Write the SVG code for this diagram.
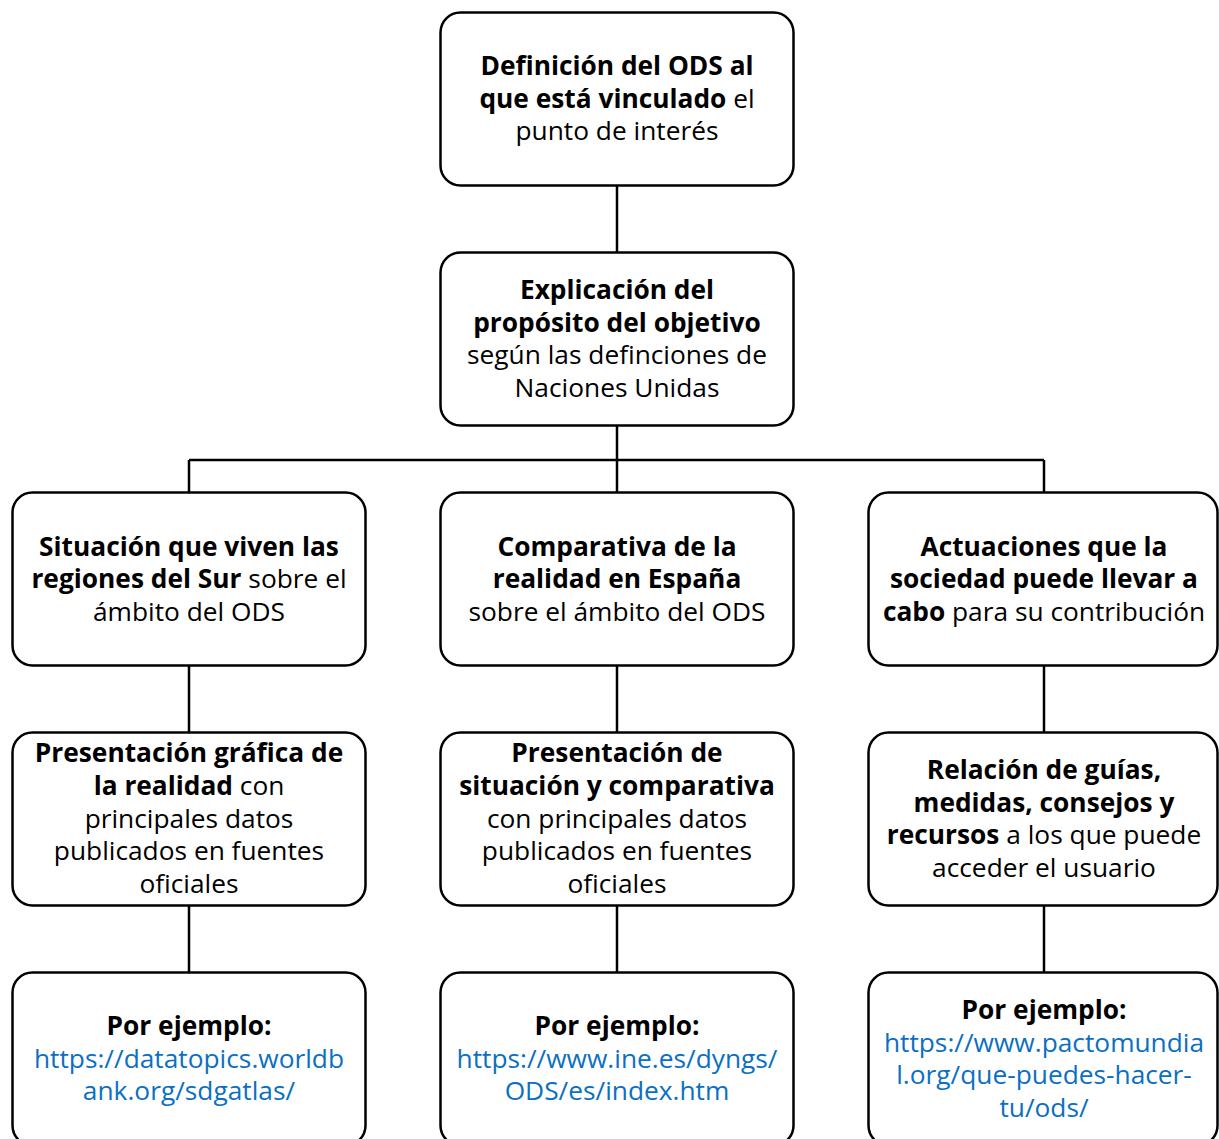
<svg xmlns="http://www.w3.org/2000/svg" width="1219" height="1139" viewBox="0 0 1219 1139">
<style>
.box{fill:#fff;stroke:#000;stroke-width:2.5}
.t{font-family:"Open Sans","Noto Sans","Liberation Sans",sans-serif;font-size:26.3px;fill:#000;text-anchor:middle}
.b{font-weight:bold}
.lk{fill:#0b6fc2}
.c{stroke:#000;stroke-width:2.5;fill:none}
</style>
<rect width="1219" height="1139" fill="#fff"/>
<g id="connectors">
<path class="c" d="M617 186V252M617 426V492M189 460H1044M189 460V492M1044 460V492M189 666V732M617 666V732M1044 666V732M189 906V972M617 906V972M1044 906V972"/>
</g>
<g id="n1">
<rect class="box" x="440.5" y="12.5" width="353" height="173" rx="20"/>
<text class="t" x="617"><tspan class="b" x="617" y="75">Definición del ODS al</tspan><tspan x="617" y="108"><tspan class="b">que está vinculado</tspan> el</tspan><tspan x="617" y="140">punto de interés</tspan></text>
</g>
<g id="n2">
<rect class="box" x="440.5" y="252.5" width="353" height="173" rx="20"/>
<text class="t"><tspan class="b" x="617" y="299">Explicación del</tspan><tspan class="b" x="617" y="332">propósito del objetivo</tspan><tspan x="617" y="364">según las definciones de</tspan><tspan x="617" y="397">Naciones Unidas</tspan></text>
</g>
<g id="n3">
<rect class="box" x="12.5" y="492.5" width="353" height="173" rx="20"/>
<text class="t"><tspan class="b" x="189" y="556">Situación que viven las</tspan><tspan x="189" y="588"><tspan class="b">regiones del Sur</tspan> sobre el</tspan><tspan x="189" y="621">ámbito del ODS</tspan></text>
</g>
<g id="n4">
<rect class="box" x="440.5" y="492.5" width="353" height="173" rx="20"/>
<text class="t"><tspan class="b" x="617" y="556">Comparativa de la</tspan><tspan class="b" x="617" y="588">realidad en España</tspan><tspan x="617" y="621">sobre el ámbito del ODS</tspan></text>
</g>
<g id="n5">
<rect class="box" x="868.5" y="492.5" width="349" height="173" rx="20"/>
<text class="t"><tspan class="b" x="1044" y="556">Actuaciones que la</tspan><tspan class="b" x="1044" y="588">sociedad puede llevar a</tspan><tspan x="1044" y="621"><tspan class="b">cabo</tspan> para su contribución</tspan></text>
</g>
<g id="n6">
<rect class="box" x="12.5" y="732.5" width="353" height="173" rx="20"/>
<text class="t"><tspan class="b" x="189" y="762">Presentación gráfica de</tspan><tspan x="189" y="795"><tspan class="b">la realidad</tspan> con</tspan><tspan x="189" y="828">principales datos</tspan><tspan x="189" y="860">publicados en fuentes</tspan><tspan x="189" y="893">oficiales</tspan></text>
</g>
<g id="n7">
<rect class="box" x="440.5" y="732.5" width="353" height="173" rx="20"/>
<text class="t"><tspan class="b" x="617" y="762">Presentación de</tspan><tspan class="b" x="617" y="795">situación y comparativa</tspan><tspan x="617" y="828">con principales datos</tspan><tspan x="617" y="860">publicados en fuentes</tspan><tspan x="617" y="893">oficiales</tspan></text>
</g>
<g id="n8">
<rect class="box" x="868.5" y="732.5" width="349" height="173" rx="20"/>
<text class="t"><tspan class="b" x="1044" y="779">Relación de guías,</tspan><tspan class="b" x="1044" y="812">medidas, consejos y</tspan><tspan x="1044" y="844"><tspan class="b">recursos</tspan> a los que puede</tspan><tspan x="1044" y="877">acceder el usuario</tspan></text>
</g>
<g id="n9">
<rect class="box" x="12.5" y="972.5" width="353" height="173" rx="20"/>
<text class="t"><tspan class="b" x="189" y="1035">Por ejemplo:</tspan><tspan class="lk" x="189" y="1068">https://datatopics.worldb</tspan><tspan class="lk" x="189" y="1100">ank.org/sdgatlas/</tspan></text>
</g>
<g id="n10">
<rect class="box" x="440.5" y="972.5" width="353" height="173" rx="20"/>
<text class="t"><tspan class="b" x="617" y="1035">Por ejemplo:</tspan><tspan class="lk" x="617" y="1068">https://www.ine.es/dyngs/</tspan><tspan class="lk" x="617" y="1100">ODS/es/index.htm</tspan></text>
</g>
<g id="n11">
<rect class="box" x="868.5" y="972.5" width="349" height="173" rx="20"/>
<text class="t"><tspan class="b" x="1044" y="1019">Por ejemplo:</tspan><tspan class="lk" x="1044" y="1052">https://www.pactomundia</tspan><tspan class="lk" x="1044" y="1084">l.org/que-puedes-hacer-</tspan><tspan class="lk" x="1044" y="1117">tu/ods/</tspan></text>
</g>
</svg>
